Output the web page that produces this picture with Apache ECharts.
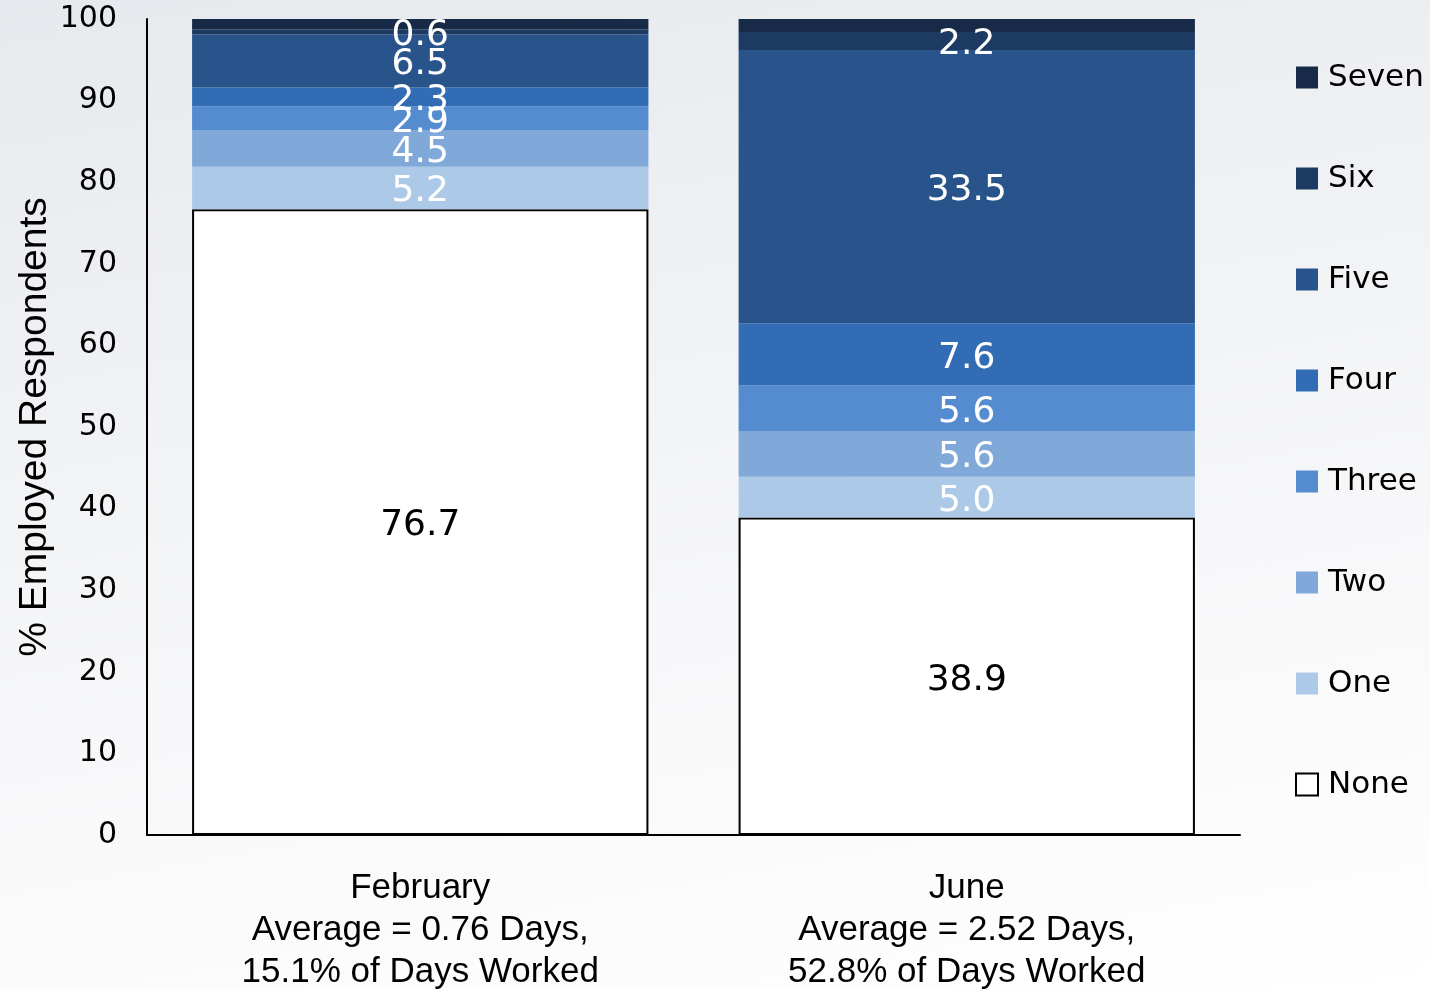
<!DOCTYPE html>
<html>
<head>
<meta charset="utf-8">
<script src="https://cdn.jsdelivr.net/npm/echarts@6/dist/echarts.min.js"></script>
<style>
  html, body { margin: 0; padding: 0; }
  body {
    width: 1430px; height: 989px;
    background: linear-gradient(170deg, #e6e9ed 0%, #f3f4f6 45%, #ffffff 100%);
  }
  #chart { width: 1430px; height: 989px; }
</style>
</head>
<body>
<div id="chart"></div>
<script>
const months = ['February', 'June']
const avgDays = ['0.76', '2.52']
const shareWorked = ['15.1%', '52.8%']

// days worked from home per week, % of employed respondents
const seriesNames = ['None', 'One', 'Two', 'Three', 'Four', 'Five', 'Six', 'Seven']
const noneVals = [76.7, 38.9]
const oneVals = [5.2, 5.0]
const twoVals = [4.5, 5.6]
const threeVals = [2.9, 5.6]
const fourVals = [2.3, 7.6]
const fiveVals = [6.5, 33.5]
const sixVals = [0.6, 2.2]
const sevenVals = [1.3, 1.6]

const colors = ['#ffffff', '#adc9e8', '#80a9da', '#548ccf', '#316cb4', '#28548b', '#1d3a63', '#172a47']
const valueSets = [noneVals, oneVals, twoVals, threeVals, fourVals, fiveVals, sixVals, sevenVals]

const categories = months.map((m, i) => `${m}\nAverage = ${avgDays[i]} Days,\n${shareWorked[i]} of Days Worked`)

const FONT = 'DejaVu Sans'
const NARROW = 'Liberation Sans Narrow, Liberation Sans, sans-serif'

const chart = echarts.init(document.getElementById('chart'), null, { renderer: 'canvas' })

const series = seriesNames.map((name, i) => ({
  name,
  type: 'bar',
  stack: 'total',
  barCategoryGap: '16.5%',
  data: valueSets[i],
  itemStyle: i === 0
    ? { color: '#ffffff', borderColor: '#000', borderWidth: 2 }
    : { color: colors[i] },
  label: {
    show: name !== 'Seven',
    position: 'inside',
    offset: [0, 4],
    color: i === 0 ? '#000' : '#fff',
    fontFamily: FONT,
    fontSize: 36,
    formatter: (p) => p.value.toFixed(1),
  },
  emphasis: { disabled: true },
}))

chart.setOption({
  backgroundColor: 'transparent',
  animation: false,
  textStyle: { fontFamily: FONT },
  grid: { left: 147, right: 190, top: 19, bottom: 154, containLabel: false, outerBoundsMode: 'none' },
  legend: {
    orient: 'vertical',
    left: 1295,
    top: 62,
    padding: 0,
    itemWidth: 22,
    itemHeight: 22,
    itemGap: 70,
    icon: 'rect',
    data: [...seriesNames].reverse(),
    textStyle: { color: '#000', fontSize: 31, fontFamily: FONT, padding: [0, 0, 0, 5] },
  },
  xAxis: {
    type: 'category',
    data: categories,
    axisLine: { lineStyle: { color: '#000', width: 2 } },
    axisTick: { show: false },
    axisLabel: {
      color: '#000',
      fontFamily: NARROW,
      fontSize: 35,
      lineHeight: 42,
      margin: 32,
    },
  },
  yAxis: {
    type: 'value',
    min: 0,
    max: 100,
    interval: 10,
    name: '% Employed Respondents',
    nameLocation: 'middle',
    nameGap: 92,
    nameMoveOverlap: false,
    nameTextStyle: {
      color: '#000',
      fontFamily: NARROW,
      fontSize: 39,
    },
    axisLine: { show: true, lineStyle: { color: '#000', width: 2 } },
    axisTick: { show: false },
    splitLine: { show: false },
    axisLabel: { color: '#000', fontSize: 30, fontFamily: FONT, margin: 30 },
  },
  series,
})
</script>
</body>
</html>
